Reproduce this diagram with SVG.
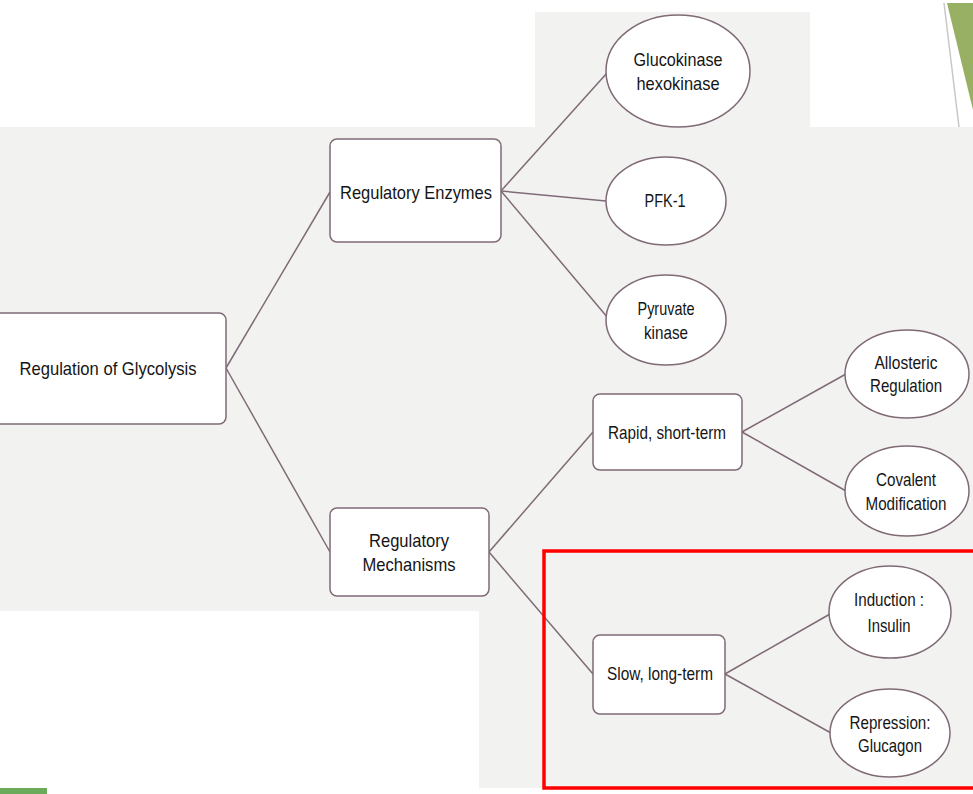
<svg xmlns="http://www.w3.org/2000/svg" width="973" height="794" viewBox="0 0 973 794">
<style>
.bg{fill:#f2f2f1}
.box{fill:#ffffff;stroke:#7f6a76;stroke-width:1.5}
.t{font-family:"Liberation Sans",Arial,sans-serif;font-size:18.5px;fill:#151515;text-anchor:middle}
.c{stroke:#7f6a76;stroke-width:1.5;fill:none}
</style>
<rect width="973" height="794" fill="#ffffff"/>
<g id="background">
<rect class="bg" x="535" y="12" width="275" height="116"/>
<rect class="bg" x="0" y="127" width="973" height="484"/>
<rect class="bg" x="479" y="610" width="494" height="178"/>
<polygon points="947,3 973,3 973,110" fill="#97b063"/>
<line x1="944" y1="3" x2="959" y2="127" stroke="#c8c8c8" stroke-width="1.5"/>
<rect x="0" y="788" width="47" height="6" fill="#6aaa5a"/>
</g>
<g id="connectors">
<line class="c" x1="226" y1="368" x2="330" y2="192"/>
<line class="c" x1="226" y1="368" x2="330" y2="552"/>
<line class="c" x1="501" y1="191" x2="607" y2="73"/>
<line class="c" x1="501" y1="191" x2="606" y2="201"/>
<line class="c" x1="501" y1="191" x2="608" y2="318"/>
<line class="c" x1="489" y1="552" x2="593" y2="432"/>
<line class="c" x1="489" y1="552" x2="593" y2="674"/>
<line class="c" x1="742" y1="432" x2="846" y2="374"/>
<line class="c" x1="742" y1="432" x2="846" y2="491"/>
<line class="c" x1="725" y1="674" x2="830" y2="614"/>
<line class="c" x1="725" y1="674" x2="831" y2="733"/>
</g>
<g id="n-regulation">
<rect class="box" x="-10" y="313" width="236" height="111" rx="7"/>
<text class="t" x="108" y="375" textLength="177" lengthAdjust="spacingAndGlyphs">Regulation of Glycolysis</text>
</g>
<g id="n-enzymes">
<rect class="box" x="330" y="139" width="171" height="103" rx="7"/>
<text class="t" x="416" y="199" textLength="152" lengthAdjust="spacingAndGlyphs">Regulatory Enzymes</text>
</g>
<g id="n-glucokinase">
<ellipse class="box" cx="678" cy="71" rx="72" ry="56"/>
<text class="t" x="678" y="66" textLength="89" lengthAdjust="spacingAndGlyphs">Glucokinase</text>
<text class="t" x="678" y="90" textLength="83" lengthAdjust="spacingAndGlyphs">hexokinase</text>
</g>
<g id="n-pfk">
<ellipse class="box" cx="666" cy="201" rx="60" ry="44"/>
<text class="t" x="665" y="207" textLength="41" lengthAdjust="spacingAndGlyphs">PFK-1</text>
</g>
<g id="n-pyruvate">
<ellipse class="box" cx="666" cy="320" rx="60" ry="45"/>
<text class="t" x="666" y="315" textLength="57" lengthAdjust="spacingAndGlyphs">Pyruvate</text>
<text class="t" x="666" y="339" textLength="44" lengthAdjust="spacingAndGlyphs">kinase</text>
</g>
<g id="n-mechanisms">
<rect class="box" x="330" y="508" width="159" height="88" rx="7"/>
<text class="t" x="409" y="547" textLength="80" lengthAdjust="spacingAndGlyphs">Regulatory</text>
<text class="t" x="409" y="571" textLength="93" lengthAdjust="spacingAndGlyphs">Mechanisms</text>
</g>
<g id="n-rapid">
<rect class="box" x="593" y="394" width="149" height="76" rx="7"/>
<text class="t" x="667" y="439" textLength="118" lengthAdjust="spacingAndGlyphs">Rapid, short-term</text>
</g>
<g id="n-allosteric">
<ellipse class="box" cx="907" cy="374" rx="62" ry="44"/>
<text class="t" x="906" y="369" textLength="63" lengthAdjust="spacingAndGlyphs">Allosteric</text>
<text class="t" x="906" y="392" textLength="72" lengthAdjust="spacingAndGlyphs">Regulation</text>
</g>
<g id="n-covalent">
<ellipse class="box" cx="907" cy="491" rx="62" ry="45"/>
<text class="t" x="906" y="486" textLength="60" lengthAdjust="spacingAndGlyphs">Covalent</text>
<text class="t" x="906" y="510" textLength="81" lengthAdjust="spacingAndGlyphs">Modification</text>
</g>
<g id="n-slow">
<rect class="box" x="593" y="635" width="132" height="79" rx="7"/>
<text class="t" x="660" y="680" textLength="106" lengthAdjust="spacingAndGlyphs">Slow, long-term</text>
</g>
<g id="n-induction">
<ellipse class="box" cx="890" cy="612" rx="61" ry="46"/>
<text class="t" x="889" y="606" textLength="70" lengthAdjust="spacingAndGlyphs">Induction :</text>
<text class="t" x="889" y="632" textLength="43" lengthAdjust="spacingAndGlyphs">Insulin</text>
</g>
<g id="n-repression">
<ellipse class="box" cx="890" cy="733" rx="60" ry="44"/>
<text class="t" x="890" y="729" textLength="81" lengthAdjust="spacingAndGlyphs">Repression:</text>
<text class="t" x="890" y="752" textLength="64" lengthAdjust="spacingAndGlyphs">Glucagon</text>
</g>
<rect id="highlight" x="544" y="551" width="440" height="237" fill="none" stroke="#ff0000" stroke-width="3.5"/>
</svg>
